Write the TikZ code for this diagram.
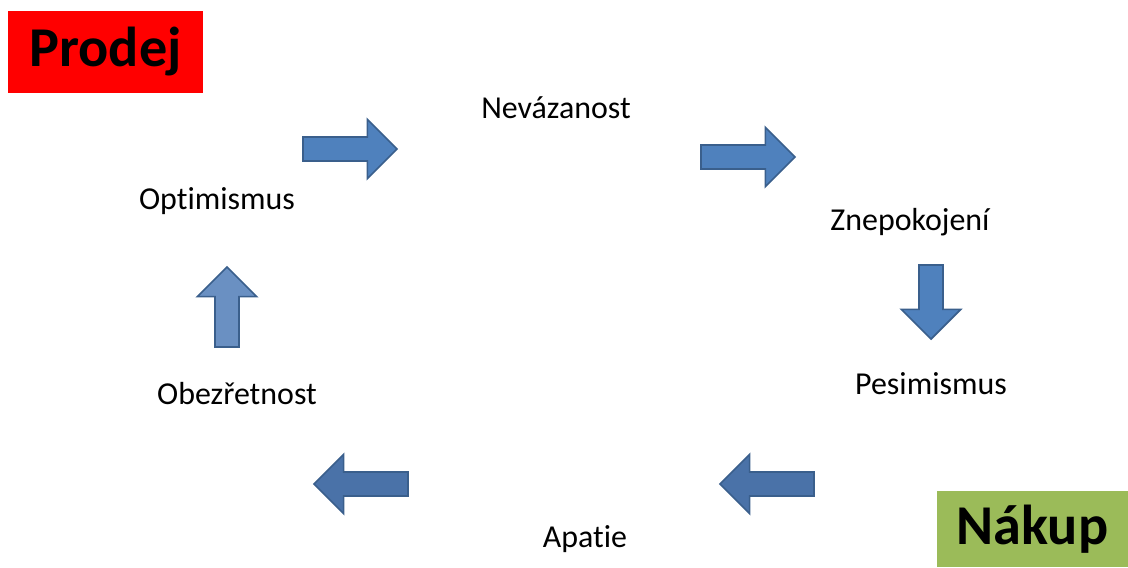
\documentclass[tikz,border=0pt]{standalone}
\usepackage{fontspec}
\setmainfont{Carlito}[Ligatures=NoCommon]
\usetikzlibrary{shapes.arrows}
\definecolor{arrowblue}{HTML}{4F81BD}
\definecolor{arrowpale}{HTML}{6A90C2}
\definecolor{arrowdark}{HTML}{4A72A8}
\definecolor{arrowedge}{HTML}{3A5F8C}
\definecolor{buygreen}{HTML}{9BBB59}

\begin{document}
\begin{tikzpicture}[x=0.025cm, y=-0.025cm,
  phase/.style={font=\fontsize{22.7}{27}\selectfont},
  market/.style={rectangle, inner sep=0pt, font=\fontsize{40}{46}\selectfont\bfseries},
  blockarrow/.style={single arrow, draw=arrowedge, line width=1.2pt, fill=arrowblue,
    inner xsep=0pt, inner ysep=0.28cm, text width=0pt, text height=0pt, text depth=0pt,
    single arrow head extend=0.44cm, minimum height=2.35cm}]
\fill[white] (0,0) rectangle (1128,567);
\useasboundingbox (0,0) rectangle (1128,567);
% market boxes
\node[market, fill=red, minimum width=4.875cm, minimum height=2.025cm] (prodej) at (105.5,52) {Prodej};
\node[market, fill=buygreen, minimum width=4.775cm, minimum height=1.9cm] (nakup) at (1032.5,529) {Nákup};
% phases of the cycle
\node[phase] (nevazanost) at (556,108) {Nevázanost};
\node[phase] (znepokojeni) at (910,222) {Znepokojení};
\node[phase] (pesimismus) at (931,384) {Pesimismus};
\node[phase] (apatie) at (585,539) {Apatie};
\node[phase] (obezretnost) at (237,394) {Obezřetnost};
\node[phase] (optimismus) at (217,201) {Optimismus};
% block arrows
\node[blockarrow] (a1) at (344,149) {};
\node[blockarrow] (a2) at (742,157) {};
\node[blockarrow, rotate=-90, minimum height=1.85cm] (a3) at (931,296) {};
\node[blockarrow, rotate=180, fill=arrowdark] (a4) at (773,484) {};
\node[blockarrow, rotate=180, fill=arrowdark] (a5) at (367,484) {};
\node[blockarrow, rotate=90, fill=arrowpale, minimum height=2cm] (a6) at (227,313) {};
\end{tikzpicture}
\end{document}
